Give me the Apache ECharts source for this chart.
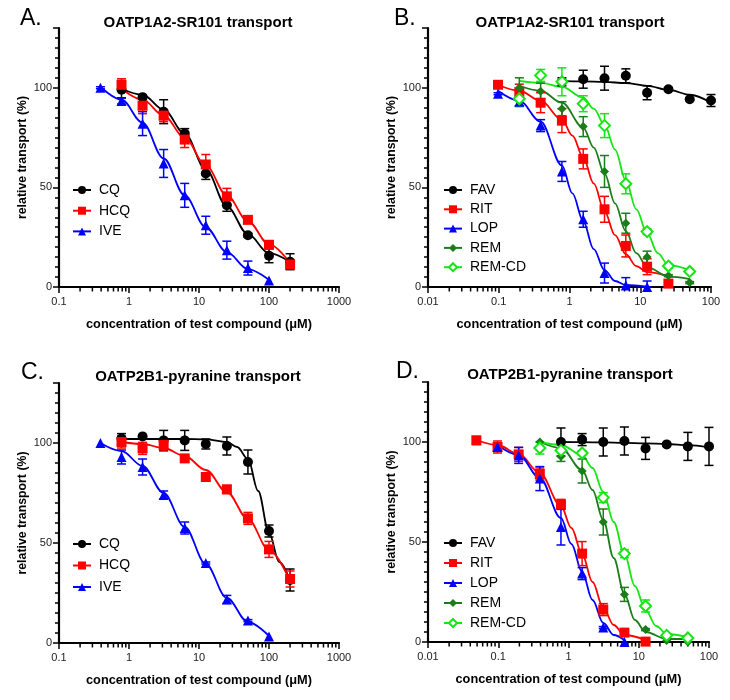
<!DOCTYPE html>
<html><head><meta charset="utf-8">
<script src="https://cdn.jsdelivr.net/npm/echarts@6/dist/echarts.min.js"></script>
<style>html,body{margin:0;padding:0;background:#fff}#c{width:730px;height:700px}</style>
</head><body><div id="c"></div><script>
// ---------- tick labels ----------
const xTicksAC = ['0.1', '1', '10', '100', '1000'];
const xTicksBD = ['0.01', '0.1', '1', '10', '100'];
const yTickLabels = ['0', '50', '100'];
const minorMult = [2, 3, 4, 5, 6, 7, 8, 9];
const decadesAC = [0.1, 1, 10, 100];
const decadesBD = [0.01, 0.1, 1, 10];

// ---------- Panel A : OATP1A2-SR101 (CQ, HCQ, IVE) ----------
const concA = [0.78125, 1.5625, 3.125, 6.25, 12.5, 25, 50, 100, 200];
const concA_IVE = [0.390625, 0.78125, 1.5625, 3.125, 6.25, 12.5, 25, 50, 100];
const A_CQ = [99, 95.3, 88, 77, 57, 41, 26, 15.7, 12.7];
const A_CQ_err = [4, 1, 6, 2.5, 3, 3, 1, 3.5, 4];
const A_CQ_fit = [99.5, 96.5, 89, 77, 59, 40.5, 26.5, 17, 12.5];
const A_HCQ = [101.5, 91, 86, 74, 61.5, 45.5, 33.7, 21.2, 11.3];
const A_HCQ_err = [3, 4, 3, 4, 5, 4, 0.8, 2, 2];
const A_HCQ_fit = [99.5, 94, 86, 75, 61, 46, 33, 21.5, 12];
const A_IVE = [100, 93.3, 82, 62, 46, 31, 18.5, 9.5, 3.3];
const A_IVE_err = [0.5, 1.5, 6, 7, 6, 4.5, 4.5, 3.5, 0];
const A_IVE_fit = [100.5, 94, 82.5, 64.5, 46, 30, 17.5, 9, 3.5];

// ---------- Panel B : OATP1A2-SR101 (FAV, RIT, LOP, REM, REM-CD) ----------
const concB_FAV = [0.78125, 1.5625, 3.125, 6.25, 12.5, 25, 50, 100];
const B_FAV = [103, 104.3, 104.8, 106, 97.5, 99.3, 94.2, 93.6];
const B_FAV_err = [2, 4.5, 6, 3.5, 3.5, 0.8, 0.5, 3];
const B_FAV_fit = [103.3, 103.2, 103, 102.3, 101, 99, 96.5, 92.5];
const concB_RIT = [0.09766, 0.1953, 0.3906, 0.78125, 1.5625, 3.125, 6.25, 12.5, 25];
const B_RIT = [101.5, 97.8, 92.5, 83.5, 64.3, 39, 20.6, 10.2, 1.7];
const B_RIT_err = [0.5, 4, 5, 6, 5, 6.5, 5.5, 4, 0];
const fitB_RIT_x = [0.09766, 0.1953, 0.3906, 0.78125, 1.1, 1.5625, 2.2, 3.125, 4.4, 6.25, 8.8, 12.5, 25];
const B_RIT_fit = [101.5, 98.5, 93.5, 84, 76, 65, 52, 38, 26, 16.5, 10.5, 7.5, 5.5];
const concB_LOP = [0.09766, 0.1953, 0.3906, 0.78125, 1.5625, 3.125, 6.25, 12.5];
const B_LOP = [97, 93, 81, 58, 34, 7, 0.7, 0];
const B_LOP_err = [0.5, 2, 3, 5, 4, 5, 4, 3];
const fitB_LOP_x = [0.09766, 0.1953, 0.3906, 0.78125, 1.1, 1.5625, 2.2, 3.125, 4.4, 6.25, 12.5];
const B_LOP_fit = [98.5, 93.5, 83, 61, 47, 33, 19, 8.5, 3, 1, 0.2];
const concB_REM = [0.1953, 0.3906, 0.78125, 1.5625, 3.125, 6.25, 12.5, 25, 50];
const B_REM = [100, 98.3, 89.5, 80.5, 58, 32, 15, 5.7, 2.2];
const B_REM_err = [5, 4, 3.5, 5, 8, 5, 3, 0.5, 0.5];
const fitB_REM_x = [0.1953, 0.3906, 0.78125, 1.5625, 2.2, 3.125, 4.4, 6.25, 8.8, 12.5, 25, 50];
const B_REM_fit = [101, 98.5, 92.5, 80, 70, 57, 42, 28, 17, 10, 5.2, 4];
const B_REMCD = [94.5, 106.2, 103, 92, 81, 51.8, 27.8, 10.5, 7.8];
const B_REMCD_err = [4, 3, 7, 4, 6, 5, 1.5, 1, 1];
const fitB_REMCD_x = [0.1953, 0.3906, 0.78125, 1.5625, 2.2, 3.125, 4.4, 6.25, 8.8, 12.5, 17.7, 25, 50];
const B_REMCD_fit = [103.5, 102.5, 100.5, 95, 89.5, 81.5, 69, 53.5, 39, 27, 17, 11, 8.5];

// ---------- Panel C : OATP2B1-pyranine (CQ, HCQ, IVE) ----------
const C_CQ = [102.2, 103.3, 101.3, 101.3, 99.5, 98.5, 90.5, 56, 31.5];
const C_CQ_err = [2.5, 0.5, 5, 5, 2.5, 4.5, 6, 3, 5.5];
const fitC_CQ_x = [0.78125, 1.5625, 3.125, 6.25, 12.5, 25, 35, 50, 70, 100, 140, 200];
const C_CQ_fit = [102, 102, 102, 102, 101.8, 100.5, 98, 92, 76, 55, 40.5, 31];
const C_HCQ = [100.5, 97.3, 99, 92.3, 83, 76.8, 62.3, 46.8, 32];
const C_HCQ_err = [3, 3, 3, 1, 2, 2, 3, 4, 4];
const C_HCQ_fit = [100.5, 99.5, 97.5, 93.5, 86.5, 75.5, 62, 46.5, 31];
const C_IVE = [100, 93, 88, 74, 57.5, 40, 21.8, 11.2, 3.3];
const C_IVE_err = [0, 3.5, 4, 2, 3, 0.5, 2, 0.5, 0];
const C_IVE_fit = [100, 96, 88.5, 75, 58, 39.5, 22.5, 10.5, 3.5];

// ---------- Panel D : OATP2B1-pyranine (FAV, RIT, LOP, REM, REM-CD) ----------
const concD_FAV = [0.78125, 1.5625, 3.125, 6.25, 12.5, 25, 50, 100];
const D_FAV = [100, 101.2, 100, 100.5, 96.8, 98.8, 97.8, 97.8];
const D_FAV_err = [7, 3, 7, 7, 5.5, 0.5, 7, 9.5];
const D_FAV_fit = [100, 99.9, 99.8, 99.6, 99.3, 99, 98.4, 97.3];
const concD_RIT = [0.0488, 0.09766, 0.1953, 0.3906, 0.78125, 1.5625, 3.125, 6.25, 12.5];
const D_RIT = [100.8, 97.5, 93.8, 84, 68.8, 44.2, 16.2, 4.7, 0.2];
const D_RIT_err = [2, 3, 3.5, 3, 2.5, 6, 3, 0.5, 0];
const fitD_RIT_x = [0.0488, 0.09766, 0.1953, 0.3906, 0.78125, 1.1, 1.5625, 2.2, 3.125, 4.4, 6.25, 12.5];
const D_RIT_fit = [101, 98.5, 94, 84.5, 68, 57, 44, 30, 17, 8.5, 3.5, 1];
const concD_LOP = [0.09766, 0.1953, 0.3906, 0.78125, 1.5625, 3.125, 6.25];
const D_LOP = [97.5, 93.3, 81.7, 57.5, 34.2, 7.2, 0];
const D_LOP_err = [1, 4, 6, 9, 3, 0.5, 0];
const fitD_LOP_x = [0.09766, 0.1953, 0.3906, 0.78125, 1.1, 1.5625, 2.2, 3.125, 4.4, 6.25];
const D_LOP_fit = [98.5, 93.5, 82, 62, 49, 35, 21, 9.5, 3.5, 1];
const concD_REM = [0.3906, 0.78125, 1.5625, 3.125, 6.25, 12.5, 25, 50];
const D_REM = [100, 92.8, 85.5, 60, 23.8, 6.2, 0.8, 0];
const D_REM_err = [0, 2.5, 6, 6.5, 3.5, 0.5, 0, 0];
const fitD_REM_x = [0.3906, 0.78125, 1.5625, 2.2, 3.125, 4.4, 6.25, 8.8, 12.5, 25, 50];
const D_REM_fit = [100, 97, 86, 76, 61, 42, 24, 11, 5, 1.5, 1.5];
const D_REMCD = [97, 95.8, 94.5, 72.2, 44.2, 18, 3.3, 2];
const D_REMCD_err = [3, 0.5, 1, 2.5, 2, 3, 0.5, 0.5];
const fitD_REMCD_x = [0.3906, 0.78125, 1.5625, 2.2, 3.125, 4.4, 6.25, 8.8, 12.5, 17.7, 25, 50];
const D_REMCD_fit = [100, 98.5, 93.5, 87, 75, 60, 44, 28, 16, 8, 4, 2.5];

// ---------- styling / layout ----------
const FF = '"Liberation Sans", Arial, Helvetica, sans-serif';
const COL = {black: '#000000', red: '#ff0000', blue: '#0000ff', dgreen: '#1a7d1a', lgreen: '#14e614'};
const grids = [
  {left: 59, top: 28, width: 280, height: 259},
  {left: 428, top: 28, width: 283, height: 259},
  {left: 59, top: 383, width: 280, height: 260},
  {left: 428, top: 382, width: 281, height: 260}
];
const xRanges = [[0.1, 1000], [0.01, 100], [0.1, 1000], [0.01, 100]];
const xLabelSets = [xTicksAC, xTicksBD, xTicksAC, xTicksBD];
const decadeSets = [decadesAC, decadesBD, decadesAC, decadesBD];

const series = [];

function errRender(color) {
  return function (params, api) {
    const x = api.value(0), y = api.value(1), e = api.value(2);
    if (!(e > 0)) return null;
    const t = api.coord([x, y + e]);
    const b = api.coord([x, Math.max(0, y - e)]);
    const hw = 4.5;
    const st = {stroke: color, lineWidth: 1.5};
    return {type: 'group', children: [
      {type: 'line', shape: {x1: t[0], y1: t[1], x2: b[0], y2: b[1]}, style: st},
      {type: 'line', shape: {x1: t[0] - hw, y1: t[1], x2: t[0] + hw, y2: t[1]}, style: st},
      {type: 'line', shape: {x1: b[0] - hw, y1: b[1], x2: b[0] + hw, y2: b[1]}, style: st}
    ]};
  };
}

function addCompound(g, name, color, sym, size, xs, ys, errs, fx, fy, hollow) {
  series.push({
    type: 'line', name: name, xAxisIndex: g, yAxisIndex: g,
    data: fx.map((x, i) => [x, fy[i]]),
    showSymbol: false, symbol: hollow ? 'emptyDiamond' : sym, symbolSize: size,
    smooth: 0.35, smoothMonotone: 'x',
    lineStyle: {color: color, width: 1.8}, itemStyle: {color: color},
    z: 2, silent: true
  });
  series.push({
    type: 'custom', name: name, xAxisIndex: g, yAxisIndex: g,
    data: xs.map((x, i) => [x, ys[i], errs[i]]),
    renderItem: errRender(color), clip: false, z: 3, silent: true
  });
  series.push({
    type: 'scatter', name: name, xAxisIndex: g, yAxisIndex: g,
    data: xs.map((x, i) => [x, ys[i]]),
    symbol: sym, symbolSize: size,
    itemStyle: hollow ? {color: '#ffffff', borderColor: color, borderWidth: 2, opacity: 1} : {color: color, opacity: 1},
    z: 4, silent: true
  });
}

// Panel A
addCompound(0, 'CQ', COL.black, 'circle', 10, concA, A_CQ, A_CQ_err, concA, A_CQ_fit);
addCompound(0, 'HCQ', COL.red, 'rect', 10, concA, A_HCQ, A_HCQ_err, concA, A_HCQ_fit);
addCompound(0, 'IVE', COL.blue, 'triangle', 10, concA_IVE, A_IVE, A_IVE_err, concA_IVE, A_IVE_fit);
// Panel B
addCompound(1, 'FAV', COL.black, 'circle', 10, concB_FAV, B_FAV, B_FAV_err, concB_FAV, B_FAV_fit);
addCompound(1, 'RIT', COL.red, 'rect', 10, concB_RIT, B_RIT, B_RIT_err, fitB_RIT_x, B_RIT_fit);
addCompound(1, 'LOP', COL.blue, 'triangle', 10, concB_LOP, B_LOP, B_LOP_err, fitB_LOP_x, B_LOP_fit);
addCompound(1, 'REM', COL.dgreen, 'diamond', 9, concB_REM, B_REM, B_REM_err, fitB_REM_x, B_REM_fit);
addCompound(1, 'REM-CD', COL.lgreen, 'diamond', 11, concB_REM, B_REMCD, B_REMCD_err, fitB_REMCD_x, B_REMCD_fit, true);
// Panel C
addCompound(2, 'CQ', COL.black, 'circle', 10, concA, C_CQ, C_CQ_err, fitC_CQ_x, C_CQ_fit);
addCompound(2, 'HCQ', COL.red, 'rect', 10, concA, C_HCQ, C_HCQ_err, concA, C_HCQ_fit);
addCompound(2, 'IVE', COL.blue, 'triangle', 10, concA_IVE, C_IVE, C_IVE_err, concA_IVE, C_IVE_fit);
// Panel D
addCompound(3, 'FAV', COL.black, 'circle', 10, concD_FAV, D_FAV, D_FAV_err, concD_FAV, D_FAV_fit);
addCompound(3, 'RIT', COL.red, 'rect', 10, concD_RIT, D_RIT, D_RIT_err, fitD_RIT_x, D_RIT_fit);
addCompound(3, 'LOP', COL.blue, 'triangle', 10, concD_LOP, D_LOP, D_LOP_err, fitD_LOP_x, D_LOP_fit);
addCompound(3, 'REM', COL.dgreen, 'diamond', 9, concD_REM, D_REM, D_REM_err, fitD_REM_x, D_REM_fit);
addCompound(3, 'REM-CD', COL.lgreen, 'diamond', 11, concD_REM, D_REMCD, D_REMCD_err, fitD_REMCD_x, D_REMCD_fit, true);

// minor log ticks on x axes (2..9 per decade), drawn through the axis scale
for (let g = 0; g < 4; g++) {
  const minor = [];
  decadeSets[g].forEach(d => minorMult.forEach(m => minor.push([+(d * m).toPrecision(6), 0])));
  series.push({
    type: 'custom', xAxisIndex: g, yAxisIndex: g, data: minor, clip: false, silent: true, z: 1,
    renderItem: function (params, api) {
      const p = api.coord([api.value(0), 0]);
      return {type: 'line', shape: {x1: p[0], y1: p[1], x2: p[0], y2: p[1] + 4.5}, style: {stroke: '#000', lineWidth: 1.5}};
    }
  });
}

const xAxes = [], yAxes = [];
for (let g = 0; g < 4; g++) {
  const labels = xLabelSets[g];
  xAxes.push({
    type: 'log', logBase: 10, gridIndex: g, min: xRanges[g][0], max: xRanges[g][1],
    axisLine: {onZero: false, lineStyle: {color: '#000', width: 2.2}},
    axisTick: {length: 6, lineStyle: {color: '#000', width: 1.5}},
    splitLine: {show: false}, minorTick: {show: false},
    axisLabel: {fontSize: 11, color: '#222', margin: 9, fontFamily: FF,
      formatter: v => { const i = Math.round(Math.log10(v) - Math.log10(xRanges[g][0])); return labels[i] || ''; }},
    name: 'concentration of test compound (μM)', nameLocation: 'middle', nameGap: 31,
    nameTextStyle: {fontWeight: 'bold', fontSize: 12.8, color: '#000', fontFamily: FF}
  });
}
for (let g = 0; g < 4; g++) {
  yAxes.push({
    type: 'value', gridIndex: g, min: 0, max: 130, interval: 50, position: 'left',
    axisLine: {show: true, onZero: false, lineStyle: {color: '#000', width: 2.2}},
    axisTick: {length: 6, lineStyle: {color: '#000', width: 1.5}},
    splitLine: {show: false},
    axisLabel: {fontSize: 11, color: '#222', margin: 7, fontFamily: FF,
      formatter: v => (v % 50 === 0 ? yTickLabels[v / 50] : '')},
    name: 'relative transport (%)', nameLocation: 'middle', nameRotate: 90, nameGap: 30,
    nameTextStyle: {fontWeight: 'bold', fontSize: 12.3, color: '#000', fontFamily: FF}
  });
}
for (let g = 0; g < 4; g++) {
  yAxes.push({
    type: 'value', gridIndex: g, min: 0, max: 130, interval: 5, position: 'left', offset: 0,
    axisLine: {show: false}, axisTick: {length: 4, lineStyle: {color: '#000', width: 1.5}},
    splitLine: {show: false}, axisLabel: {show: false}
  });
}

const legendBase = {orient: 'vertical', itemWidth: 18, itemHeight: 10, padding: 0, selectedMode: false,
  textStyle: {fontSize: 14, color: '#000', fontFamily: FF, padding: [0, 0, 0, 3]}};
const legends = [
  Object.assign({}, legendBase, {left: 72, top: 183, itemGap: 6.7, data: ['CQ', 'HCQ', 'IVE']}),
  Object.assign({}, legendBase, {left: 443, top: 183, itemGap: 5.3, data: ['FAV', 'RIT', 'LOP', 'REM', 'REM-CD']}),
  Object.assign({}, legendBase, {left: 72, top: 537, itemGap: 7.5, data: ['CQ', 'HCQ', 'IVE']}),
  Object.assign({}, legendBase, {left: 443, top: 536, itemGap: 6, data: ['FAV', 'RIT', 'LOP', 'REM', 'REM-CD']})
];

function txt(x, y, s, size, weight, align) {
  return {type: 'text', x: x, y: y, silent: true,
    style: {text: s, fontSize: size, fontWeight: weight, fontFamily: FF, fill: '#000', textAlign: align, textVerticalAlign: 'middle'}};
}
const graphics = [
  txt(20, 19, 'A.', 23, 'normal', 'left'),
  txt(394, 19, 'B.', 23, 'normal', 'left'),
  txt(21, 373, 'C.', 23, 'normal', 'left'),
  txt(396, 371.5, 'D.', 23, 'normal', 'left'),
  txt(198, 22.5, 'OATP1A2-SR101 transport', 15, 'bold', 'center'),
  txt(570, 22.5, 'OATP1A2-SR101 transport', 15, 'bold', 'center'),
  txt(198, 377, 'OATP2B1-pyranine transport', 15, 'bold', 'center'),
  txt(570, 375, 'OATP2B1-pyranine transport', 15, 'bold', 'center')
];

const chart = echarts.init(document.getElementById('c'), null, {renderer: 'canvas'});
chart.setOption({
  animation: false,
  backgroundColor: '#ffffff',
  grid: grids,
  xAxis: xAxes,
  yAxis: yAxes,
  legend: legends,
  graphic: graphics,
  series: series
});
</script></body></html>
